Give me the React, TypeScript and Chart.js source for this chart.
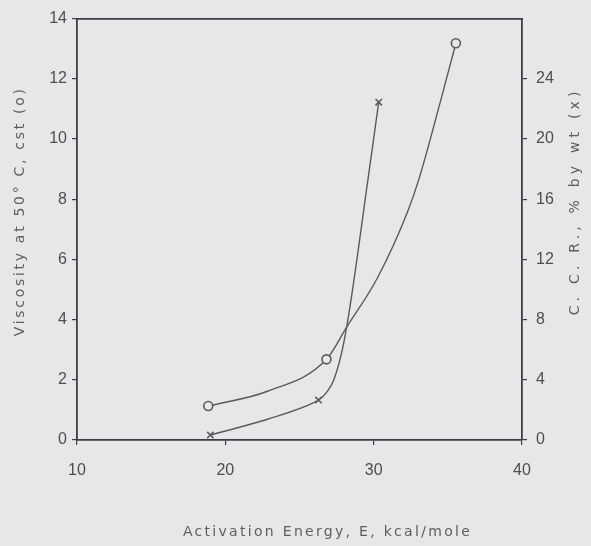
import React, { useEffect, useRef } from "react";
import { Chart, registerables } from "chart.js";

Chart.register(...registerables);

// ---- data ----
const xTickValues = [10, 20, 30, 40];
const leftTickValues = [0, 2, 4, 6, 8, 10, 12, 14];
const rightTickValues = [0, 4, 8, 12, 16, 20, 24];

// measured points (o = viscosity, x = C.C.R.)
const viscosityEnergy = [18.85, 26.82, 35.54];
const viscosityValues = [1.13, 2.68, 13.18];
const ccrEnergy = [18.99, 26.28, 30.34];
const ccrValues = [0.33, 2.65, 22.45];

// hand-drawn smooth curves
const viscosityCurveEnergy = [18.85, 22.84, 26.82, 28.18, 30.27, 32.3, 33.04, 34.53, 35.54];
const viscosityCurveValues = [1.13, 1.62, 2.68, 3.75, 5.4, 7.6, 8.65, 11.3, 13.18];
const ccrCurveEnergy = [18.99, 22.84, 26.28, 27.3, 28.18, 29.6, 30.34];
const ccrCurveValues = [0.33, 1.38, 2.65, 3.97, 7.5, 17.2, 22.45];

const X_TITLE = "Activation Energy, E, kcal/mole";
const LEFT_TITLE = "Viscosity at 50° C, cst (o)";
const RIGHT_TITLE = "C. C. R., % by wt (x)";

const BG = "#e8e6e8";
const AXIS = "#3e3d45";
const INK = "#5a5a5e";
const TEXT = "#4e4e52";
const TITLE = "#5e5e62";

const toPts = (xs: number[], ys: number[]) => xs.map((x, i) => ({ x, y: ys[i] }));

const axisTitlesPlugin = {
  id: "axisTitles",
  afterDraw(chart: any) {
    const { ctx, chartArea } = chart;
    const cx = (chartArea.left + chartArea.right) / 2;
    const cy = (chartArea.top + chartArea.bottom) / 2;
    ctx.save();
    ctx.fillStyle = TITLE;
    ctx.font = '14px "DejaVu Sans"';
    ctx.textAlign = "center";
    ctx.textBaseline = "middle";
    const spacing = (v: string) => { try { (ctx as any).letterSpacing = v; } catch (e) {} };
    spacing("2.3px");
    ctx.fillText(X_TITLE, cx + 28, chartArea.bottom + 92);
    ctx.save();
    spacing("2.7px");
    ctx.translate(chartArea.left - 57, cy - 18);
    ctx.rotate(-Math.PI / 2);
    ctx.fillText(LEFT_TITLE, 0, 0);
    ctx.restore();
    ctx.save();
    spacing("4.2px");
    ctx.translate(chartArea.right + 53, cy - 28);
    ctx.rotate(-Math.PI / 2);
    ctx.fillText(RIGHT_TITLE, 0, 0);
    ctx.restore();
    ctx.restore();
  },
};

export default function App() {
  const ref = useRef<HTMLCanvasElement | null>(null);

  useEffect(() => {
    if (!ref.current) return;
    const tickFont = { family: '"Liberation Sans", Arial, sans-serif', size: 16 };
    const chart = new Chart(ref.current, {
      type: "scatter",
      data: {
        datasets: [
          {
            label: "Viscosity",
            data: toPts(viscosityEnergy, viscosityValues),
            yAxisID: "y",
            showLine: false,
            pointStyle: "circle",
            pointRadius: 4.5,
            pointBorderWidth: 1.6,
            pointBorderColor: INK,
            pointBackgroundColor: BG,
            order: 0,
          },
          {
            label: "CCR",
            data: toPts(ccrEnergy, ccrValues),
            yAxisID: "y1",
            showLine: false,
            pointStyle: "crossRot",
            pointRadius: 4.5,
            pointBorderWidth: 1.6,
            pointBorderColor: INK,
            pointBackgroundColor: INK,
            order: 0,
          },
          {
            label: "Viscosity curve",
            data: toPts(viscosityCurveEnergy, viscosityCurveValues),
            yAxisID: "y",
            showLine: true,
            borderColor: INK,
            borderWidth: 1.4,
            pointRadius: 0,
            cubicInterpolationMode: "monotone",
            order: 1,
          },
          {
            label: "CCR curve",
            data: toPts(ccrCurveEnergy, ccrCurveValues),
            yAxisID: "y1",
            showLine: true,
            borderColor: INK,
            borderWidth: 1.4,
            pointRadius: 0,
            tension: 0.3,
            order: 1,
          },
        ],
      },
      options: {
        animation: false,
        responsive: true,
        maintainAspectRatio: false,
        layout: { padding: 0 },
        plugins: { legend: { display: false }, tooltip: { enabled: false } },
        scales: {
          x: {
            type: "linear",
            position: "bottom",
            min: 10,
            max: 40,
            afterBuildTicks: (s: any) => { s.ticks = xTickValues.map((v) => ({ value: v })); },
            afterFit: (s: any) => { s.height = 106; },
            ticks: { color: TEXT, font: tickFont, padding: 16 },
            grid: { display: true, drawOnChartArea: false, drawTicks: true, tickLength: 5, color: AXIS, lineWidth: 1.2 },
            border: { display: true, color: AXIS, width: 1.8 },
          },
          xTop: {
            type: "linear",
            position: "top",
            min: 10,
            max: 40,
            afterFit: (s: any) => { s.height = 17; },
            ticks: { display: false },
            grid: { display: false, drawTicks: false },
            border: { display: true, color: AXIS, width: 1.8 },
          },
          y: {
            type: "linear",
            position: "left",
            min: 0,
            max: 14,
            afterBuildTicks: (s: any) => { s.ticks = leftTickValues.map((v) => ({ value: v })); },
            afterFit: (s: any) => { s.width = 77; },
            ticks: { color: TEXT, font: tickFont, padding: 5 },
            grid: { display: true, drawOnChartArea: false, drawTicks: true, tickLength: 5, color: AXIS, lineWidth: 1.2 },
            border: { display: true, color: AXIS, width: 1.8 },
          },
          y1: {
            type: "linear",
            position: "right",
            min: 0,
            max: 28,
            afterBuildTicks: (s: any) => { s.ticks = rightTickValues.map((v) => ({ value: v })); },
            afterFit: (s: any) => { s.width = 69; },
            ticks: { color: TEXT, font: tickFont, padding: 9 },
            grid: { display: true, drawOnChartArea: false, drawTicks: true, tickLength: 5, color: AXIS, lineWidth: 1.2 },
            border: { display: true, color: AXIS, width: 1.8 },
          },
        },
      },
      plugins: [axisTitlesPlugin],
    } as any);
    return () => chart.destroy();
  }, []);

  return (
    <div style={{ position: "fixed", left: 0, top: 0, width: 591, height: 546, background: BG }}>
      <canvas ref={ref} />
    </div>
  );
}
